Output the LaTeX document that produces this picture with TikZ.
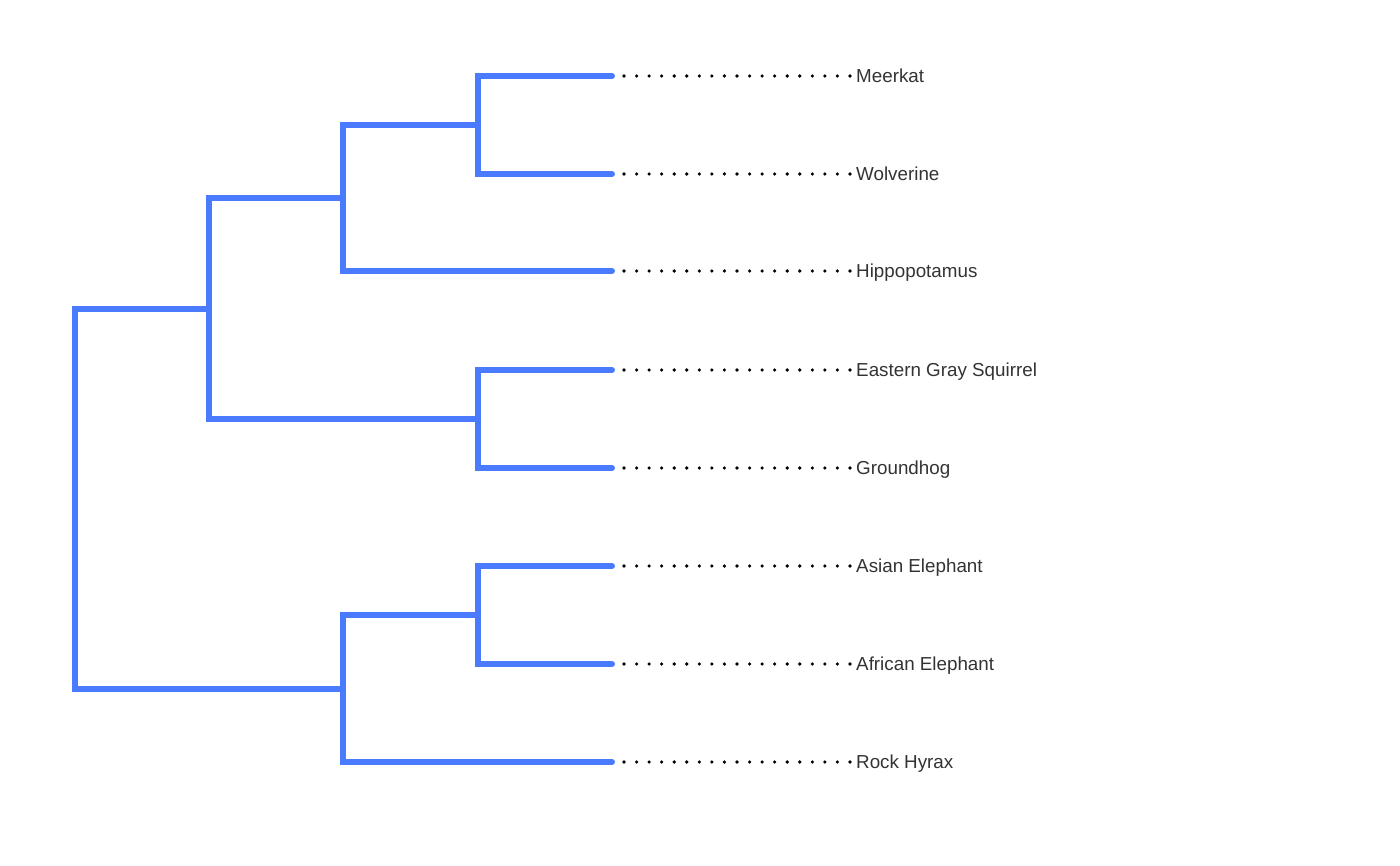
\documentclass[tikz,border=0pt]{standalone}
\usepackage{fontspec}
\setmainfont{Liberation Sans}
\definecolor{branch}{RGB}{74,123,255}
\definecolor{labeltext}{RGB}{51,51,51}
\tikzset{
  branchline/.style={draw=branch, line width=6pt, line cap=round, line join=miter},
  dotline/.style={draw=black, line width=3.6pt, line cap=round, dash pattern=on 0pt off 12.555pt},
  leaflabel/.style={anchor=base west, inner sep=0pt, text=labeltext, font=\fontsize{18.8pt}{22pt}\selectfont}
}
\begin{document}
\begin{tikzpicture}[x=1pt,y=-1pt]
\useasboundingbox (0,0) rectangle (1400,866);
% leaf coordinates
\foreach \n/\y in {l1/76,l2/174,l3/271,l4/370,l5/468,l6/566,l7/664,l8/762}{
  \coordinate (\n) at (612,\y);
  \coordinate (\n d) at (624,\y);
  \coordinate (\n e) at (850,\y);
}
\node[leaflabel] (t1) at (856,82.8) {Meerkat};
\node[leaflabel] (t2) at (856,180.8) {Wolverine};
\node[leaflabel] (t3) at (856,277.8) {Hippopotamus};
\node[leaflabel] (t4) at (856,376.8) {Eastern Gray Squirrel};
\node[leaflabel] (t5) at (856,474.8) {Groundhog};
\node[leaflabel] (t6) at (856,572.8) {Asian Elephant};
\node[leaflabel] (t7) at (856,670.8) {African Elephant};
\node[leaflabel] (t8) at (856,768.8) {Rock Hyrax};
% internal nodes
\coordinate (a) at (478,125);   % Meerkat+Wolverine
\coordinate (b) at (343,198);   % a + Hippo
\coordinate (c) at (478,419);   % Squirrel+Groundhog
\coordinate (d) at (209,309);   % b + c
\coordinate (e) at (478,615);   % elephants
\coordinate (f) at (343,689);   % e + hyrax
\coordinate (r) at (75,499);    % root
% branches
\draw[branchline] (l1) -- (a |- l1) -- (a |- l2) -- (l2);
\draw[branchline] (a) -- (b |- a) -- (b |- l3) -- (l3);
\draw[branchline] (l4) -- (c |- l4) -- (c |- l5) -- (l5);
\draw[branchline] (b) -- (d |- b) -- (d |- c) -- (c);
\draw[branchline] (l6) -- (e |- l6) -- (e |- l7) -- (l7);
\draw[branchline] (e) -- (f |- e) -- (f |- l8) -- (l8);
\draw[branchline] (d) -- (r |- d) -- (r |- f) -- (f);
% dotted guides
\foreach \n in {l1,l2,l3,l4,l5,l6,l7,l8}{
  \draw[dotline] (\n d) -- (\n e);
}
\end{tikzpicture}
\end{document}
